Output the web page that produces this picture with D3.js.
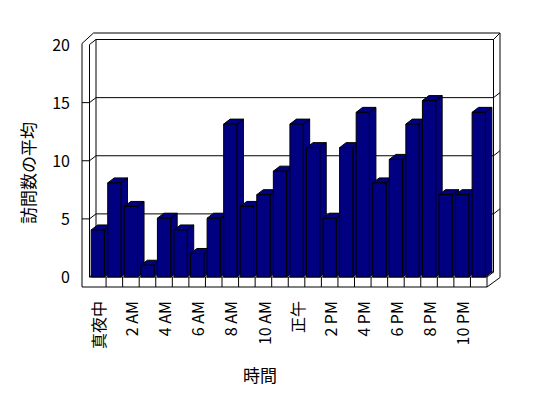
<!DOCTYPE html>
<html>
<head>
<meta charset="utf-8">
<script src="https://cdn.jsdelivr.net/npm/d3@7"></script>
<style>
body { margin: 0; background: #fff; }
text { font-family: "Noto Sans CJK JP", sans-serif; fill: #000; }
</style>
</head>
<body>
<svg id="chart" width="548" height="398"></svg>
<script>
"use strict";

var categories = ["真夜中", "1 AM", "2 AM", "3 AM", "4 AM", "5 AM", "6 AM", "7 AM", "8 AM", "9 AM", "10 AM", "11 AM",
    "正午", "1 PM", "2 PM", "3 PM", "4 PM", "5 PM", "6 PM", "7 PM", "8 PM", "9 PM", "10 PM", "11 PM"];
var visits = [4, 8, 6, 1, 5, 4, 2, 5, 13, 6, 7, 9, 13, 11, 5, 11, 14, 8, 10, 13, 15, 7, 7, 14];
var yTicks = [0, 5, 10, 15, 20];
var labelEvery = 2;
var yTitle = "訪問数の平均";
var xTitle = "時間";

var svg = d3.select("#chart");

// 3d box: front plane, depth offset, wall/floor thickness
var box = { x0: 89.5, x1: 487, y0: 277, dx: 6.5, dy: -5, wall: 7.5, floor: 10, rim: 6.5 };

var x = d3.scaleBand().domain(d3.range(categories.length))
    .range([box.x0, box.x1]).paddingInner(0.2).paddingOuter(0.1);
var yFront = d3.scaleLinear().domain([0, 20]).range([277, 44.5]);
var yBack = d3.scaleLinear().domain([0, 20]).range([272, 39.5]);
var yBar = d3.scaleLinear().domain([0, 20]).range([277, 41.8]);

var bx0 = box.x0 + box.dx, bx1 = box.x1 + box.dx;
var outerL = box.x0 - box.wall;
var outerR = bx1 + box.rim;
var topY = yBack(20) - box.rim;
var floorB = box.y0 + box.floor;

var frame = svg.append("g").attr("class", "frame")
    .attr("fill", "none").attr("stroke", "#000").attr("stroke-width", 1);

// outline of the walls and floor
frame.append("path")
    .attr("fill", "#fff")
    .attr("d", "M" + outerL + "," + (yFront(20) - 1) +
        "L" + (bx0 - 2.5) + "," + topY +
        "H" + outerR +
        "V" + (floorB - 9.5) +
        "L" + box.x1 + "," + floorB +
        "H" + outerL + "Z");

// back wall
frame.append("rect")
    .attr("x", bx0).attr("y", yBack(20))
    .attr("width", bx1 - bx0).attr("height", yBack(0) - yBack(20));

// left wall inner edge and top
frame.append("path")
    .attr("d", "M" + box.x0 + "," + box.y0 + "V" + yFront(20) + "L" + bx0 + "," + yBack(20));
frame.append("path")
    .attr("d", "M" + bx1 + "," + yBack(20) + "L" + outerR + "," + topY);

// gridlines across left wall, back wall and right rim
yTicks.filter(function (v) { return v > 0 && v < 20; }).forEach(function (v) {
    frame.append("path")
        .attr("d", "M" + outerL + "," + yFront(v) + "H" + box.x0 +
            "L" + bx0 + "," + yBack(v) + "H" + bx1 +
            "L" + outerR + "," + (yBack(v) + box.dy));
});

// floor
frame.append("path")
    .attr("d", "M" + bx0 + "," + yBack(0) + "L" + box.x0 + "," + box.y0 +
        "H" + box.x1 + "L" + bx1 + "," + yBack(0));
frame.append("path")
    .attr("d", "M" + box.x1 + "," + box.y0 + "V" + floorB);
var step = x.step();
for (var i = 1; i < categories.length; i++) {
    var xd = x(i) - x.paddingInner() * step / 2;
    frame.append("path").attr("d", "M" + xd + "," + box.y0 + "V" + floorB);
}

// bars, drawn left to right so each hides the previous side face
var bars = svg.append("g").attr("class", "bars")
    .attr("fill", "#000080").attr("stroke", "#000").attr("stroke-width", 1)
    .attr("stroke-linejoin", "round");
visits.forEach(function (v, i) {
    var xb = x(i), w = x.bandwidth(), yt = yBar(v), yb = box.y0;
    var g = bars.append("g");
    g.append("path")
        .attr("d", "M" + (xb + w) + "," + yt + "l" + box.dx + "," + box.dy +
            "V" + (yb + box.dy) + "L" + (xb + w) + "," + yb + "Z");
    g.append("path")
        .attr("d", "M" + xb + "," + yt + "l" + box.dx + "," + box.dy +
            "H" + (xb + w + box.dx) + "L" + (xb + w) + "," + yt + "Z");
    g.append("rect")
        .attr("x", xb).attr("y", yt)
        .attr("width", w).attr("height", yb - yt);
});

// y axis labels
var yAxis = d3.axisLeft(yFront).tickValues(yTicks).tickSize(0).tickPadding(12);
var gY = svg.append("g").attr("class", "axis axis-y")
    .attr("transform", "translate(" + outerL + ",0)")
    .call(yAxis);
gY.select(".domain").remove();
gY.selectAll("text")
    .attr("font-size", 16)
    .attr("font-family", "'Noto Sans CJK JP', sans-serif")
    .attr("dy", "0.35em");

// x axis labels, rotated
var xAxis = d3.axisBottom(x)
    .tickValues(x.domain().filter(function (i) { return i % labelEvery === 0; }))
    .tickFormat(function (i) { return categories[i]; })
    .tickSize(0);
var gX = svg.append("g").attr("class", "axis axis-x")
    .attr("transform", "translate(1.5," + floorB + ")")
    .call(xAxis);
gX.select(".domain").remove();
gX.selectAll("text")
    .attr("font-size", 16)
    .attr("font-family", "'Noto Sans CJK JP', sans-serif")
    .attr("text-anchor", "end")
    .attr("transform", "rotate(-90)")
    .attr("x", -14)
    .attr("y", 0)
    .attr("dy", "0.35em");

// titles
svg.append("text")
    .attr("transform", "translate(27.5,173) rotate(-90)")
    .attr("text-anchor", "middle")
    .attr("dominant-baseline", "central")
    .attr("font-size", 17)
    .text(yTitle);
svg.append("text")
    .attr("x", 260).attr("y", 374)
    .attr("text-anchor", "middle")
    .attr("dominant-baseline", "central")
    .attr("font-size", 17)
    .text(xTitle);
</script>
</body>
</html>
